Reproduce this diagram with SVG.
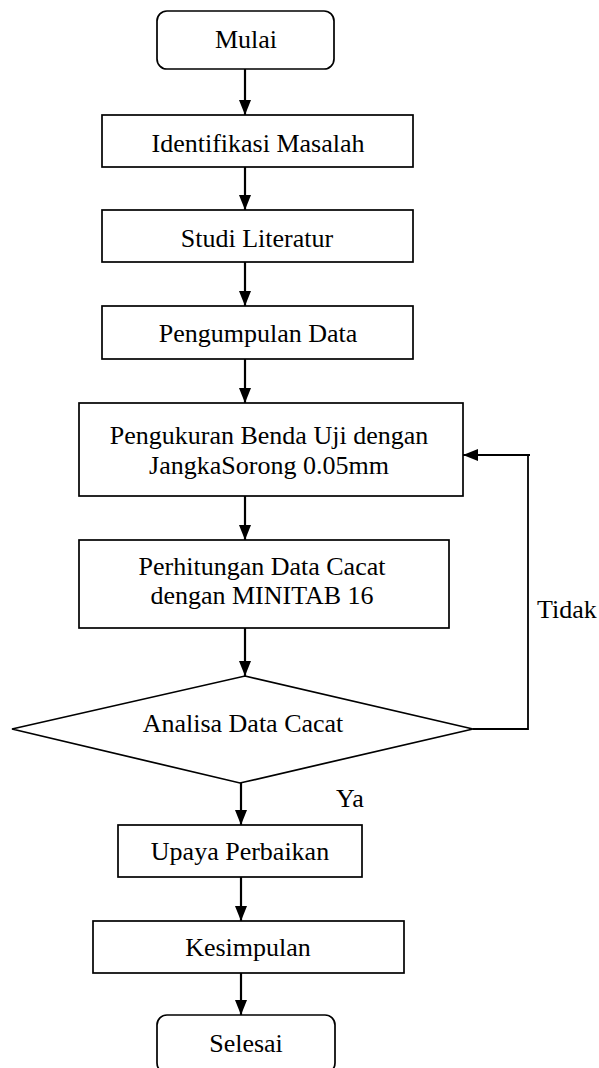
<svg xmlns="http://www.w3.org/2000/svg" width="599" height="1068" viewBox="0 0 599 1068">
<style>
.box{fill:#fff;stroke:#000;stroke-width:1.7}
.lbl{font-family:"Liberation Serif","Times New Roman",serif;font-size:26px;fill:#000;text-anchor:middle}
.plain{font-family:"Liberation Serif","Times New Roman",serif;font-size:26px;fill:#000}
.con{fill:none;stroke:#000;stroke-width:2.2}
.fb{fill:none;stroke:#000;stroke-width:1.8}
</style>
<defs>
<marker id="ah" viewBox="0 0 15 12" refX="15" refY="6" markerWidth="15" markerHeight="12" markerUnits="userSpaceOnUse" orient="auto">
<path d="M0,0 L15,6 L0,12 z" fill="#000"/>
</marker>
</defs>
<rect width="599" height="1068" fill="#fff"/>
<g id="connectors">
<line class="con" x1="245" y1="69" x2="245" y2="115" marker-end="url(#ah)"/>
<line class="con" x1="245" y1="167" x2="245" y2="210" marker-end="url(#ah)"/>
<line class="con" x1="245" y1="262" x2="245" y2="306" marker-end="url(#ah)"/>
<line class="con" x1="245" y1="359" x2="245" y2="403" marker-end="url(#ah)"/>
<line class="con" x1="245" y1="496" x2="245" y2="540" marker-end="url(#ah)"/>
<line class="con" x1="245" y1="628" x2="245" y2="676" marker-end="url(#ah)"/>
<line class="con" x1="241" y1="783" x2="241" y2="825" marker-end="url(#ah)"/>
<line class="con" x1="241" y1="877" x2="241" y2="921" marker-end="url(#ah)"/>
<line class="con" x1="241" y1="973" x2="241" y2="1015" marker-end="url(#ah)"/>
<polyline class="fb" points="473,729 528,729 528,455"/>
<line class="con" x1="530" y1="455" x2="463" y2="455" marker-end="url(#ah)"/>
<text class="plain" x="537" y="618">Tidak</text>
<text class="plain" x="336" y="807">Ya</text>
</g>
<g id="mulai">
<rect class="box" x="157" y="11" width="177" height="58" rx="10"/>
<text class="lbl" x="246" y="48">Mulai</text>
</g>
<g id="identifikasi">
<rect class="box" x="102" y="115" width="311" height="52"/>
<text class="lbl" x="258" y="152">Identifikasi Masalah</text>
</g>
<g id="studi">
<rect class="box" x="102" y="210" width="311" height="52"/>
<text class="lbl" x="257" y="247">Studi Literatur</text>
</g>
<g id="pengumpulan">
<rect class="box" x="102" y="306" width="311" height="53"/>
<text class="lbl" x="258" y="342">Pengumpulan Data</text>
</g>
<g id="pengukuran">
<rect class="box" x="79" y="403" width="384" height="93"/>
<text class="lbl" x="269" y="444">Pengukuran Benda Uji dengan</text>
<text class="lbl" x="269" y="474">JangkaSorong 0.05mm</text>
</g>
<g id="perhitungan">
<rect class="box" x="79" y="540" width="370" height="88"/>
<text class="lbl" x="262" y="575">Perhitungan Data Cacat</text>
<text class="lbl" x="262" y="604">dengan MINITAB 16</text>
</g>
<g id="analisa">
<polygon class="box" points="245,676 473,729 240,783 12,729"/>
<text class="lbl" x="243" y="732">Analisa Data Cacat</text>
</g>
<g id="upaya">
<rect class="box" x="118" y="825" width="244" height="52"/>
<text class="lbl" x="240" y="860">Upaya Perbaikan</text>
</g>
<g id="kesimpulan">
<rect class="box" x="93" y="921" width="311" height="52"/>
<text class="lbl" x="248" y="956">Kesimpulan</text>
</g>
<g id="selesai">
<rect class="box" x="157" y="1015" width="178" height="58" rx="10"/>
<text class="lbl" x="246" y="1052">Selesai</text>
</g>
</svg>
